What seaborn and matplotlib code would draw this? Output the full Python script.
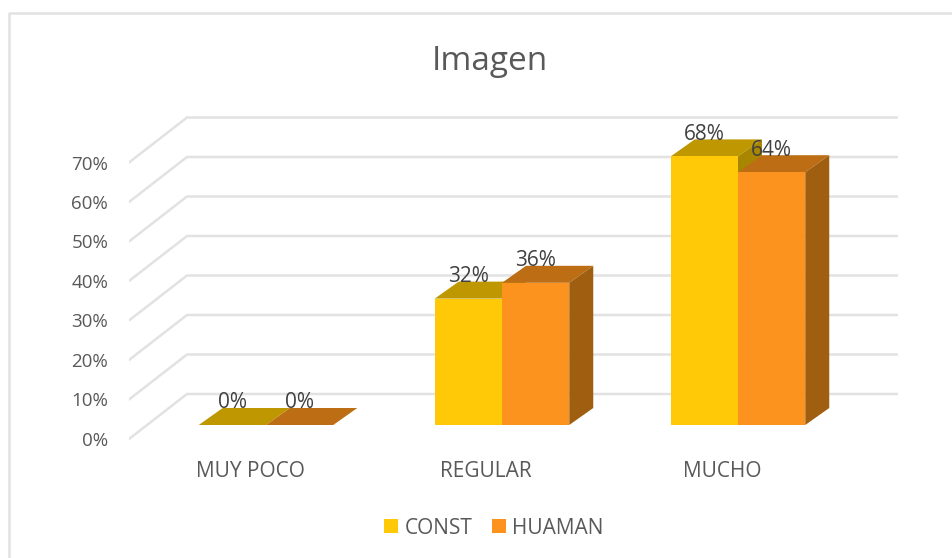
import pandas as pd
import matplotlib.pyplot as plt
import seaborn as sns
from matplotlib.patches import Polygon

# Data
categories = ["MUY POCO", "REGULAR", "MUCHO"]
const_values = [0, 32, 68]
huaman_values = [0, 36, 64]
series_names = ["CONST", "HUAMAN"]
y_ticks = [0, 10, 20, 30, 40, 50, 60, 70]

# Colours: front, top, side
palette = {"CONST": "#FFC908", "HUAMAN": "#FC931E"}
top_colors = {"CONST": "#BF9700", "HUAMAN": "#BD6E15"}
side_colors = {"CONST": "#A88600", "HUAMAN": "#A05F10"}

W, H = 953, 558
PX_X = 236.0   # pixels per category
PX_Y = 3.95    # pixels per percent

df = pd.DataFrame({
    "cat": categories * 2,
    "value": const_values + huaman_values,
    "serie": [series_names[0]] * 3 + [series_names[1]] * 3,
})

sns.set_theme(style="white")
plt.rcParams["font.family"] = ["Open Sans", "DejaVu Sans"]

fig = plt.figure(figsize=(W / 100, H / 100), dpi=100)
# axes box in pixels: x 129..898, y 100..450
ax = fig.add_axes([129 / W, 1 - 450 / H, (898 - 129) / W, 350 / H])

sns.barplot(data=df, x="cat", y="value", hue="serie", order=categories,
            hue_order=series_names, palette=palette, width=0.57, gap=0,
            saturation=1, ax=ax, zorder=4, linewidth=0)

ax.set_xlim((129 - 266) / PX_X, (898 - 266) / PX_X)
ax.set_ylim((425 - 450) / PX_Y, (425 - 100) / PX_Y)

dx = 24 / PX_X
dy = 17 / PX_Y

# Depth faces for the bars
for k, (name, container) in enumerate(zip(series_names, ax.containers)):
    for bar in container:
        x0 = bar.get_x()
        x1 = x0 + bar.get_width()
        h = bar.get_height()
        top = Polygon([(x0, h), (x1, h), (x1 + dx, h + dy), (x0 + dx, h + dy)],
                      fc=top_colors[name], ec="none", zorder=3 + k * 0.1)
        ax.add_patch(top)
        if h > 0:
            side = Polygon([(x1, 0), (x1 + dx, dy), (x1 + dx, h + dy), (x1, h)],
                           fc=side_colors[name], ec="none", zorder=3 + k * 0.1)
            ax.add_patch(side)
        ax.annotate(f"{h:.0f}%", (x0 + bar.get_width() / 2, h), xytext=(0, 22),
                    textcoords="offset pixels", ha="center", va="center",
                    fontsize=15, color="#404040", zorder=6)

# Wall and floor gridlines
front_off = -14 / PX_Y
back_off = 31 / PX_Y
x_front = ax.get_xlim()[0]
x_back = (187 - 266) / PX_X
x_end = ax.get_xlim()[1]
for v in y_ticks:
    ax.plot([x_front, x_back, x_end], [v + front_off, v + back_off, v + back_off],
            color="#E2E2E2", lw=1.8, zorder=1, solid_joinstyle="miter")

sns.despine(ax=ax, left=True, bottom=True)
ax.set_xlabel("")
ax.set_ylabel("")
ax.set_yticks([v + front_off for v in y_ticks])
ax.set_yticklabels([f"{v}%" for v in y_ticks])
ax.set_xticks([i - 16 / PX_X for i in range(len(categories))])
ax.set_xticklabels(categories)
ax.tick_params(axis="y", length=0, pad=15, labelsize=13.5, labelcolor="#595959")
ax.tick_params(axis="x", length=0, pad=8, labelsize=15, labelcolor="#595959")
ax.patch.set_alpha(0)

# Legend
handles, labels = ax.get_legend_handles_labels()
ax.legend(handles, labels, loc="center", bbox_to_anchor=((494 - 129) / 769, (450 - 528) / 350),
          ncol=2, frameon=False, fontsize=15, labelcolor="#595959",
          handlelength=0.67, handleheight=0.67, handletextpad=0.3, columnspacing=0.96)

fig.text(490 / W, 1 - 62 / H, "Imagen", ha="center", va="center",
         fontsize=24, color="#595959")

# Outer chart border
fig.add_artist(plt.Line2D([9 / W, 9 / W, 1], [0, 1 - 13 / H, 1 - 13 / H],
                          color="#E2E2E2", lw=1.8))

fig.savefig("out.png", dpi=100)
